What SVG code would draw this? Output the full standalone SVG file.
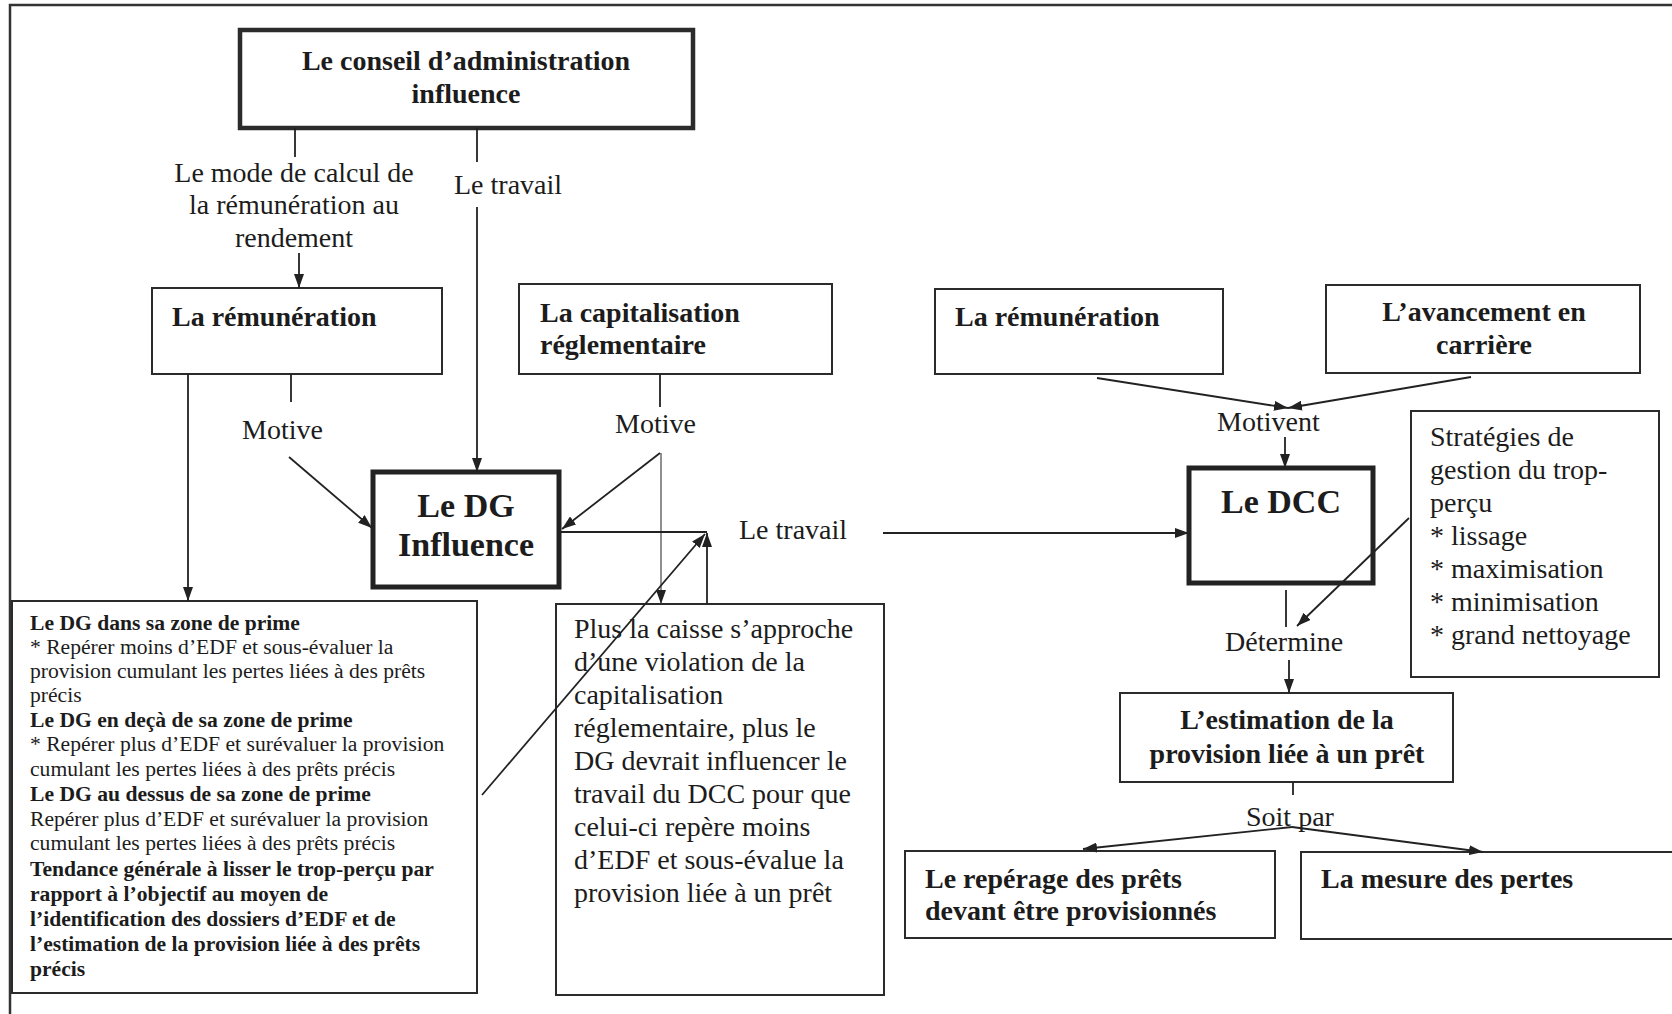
<svg xmlns="http://www.w3.org/2000/svg" width="1672" height="1014" viewBox="0 0 1672 1014">
  <defs>
    <marker id="ah" viewBox="0 0 14 10" refX="14" refY="5" markerWidth="14" markerHeight="10" markerUnits="userSpaceOnUse" orient="auto">
      <path d="M0,0 L14,5 L0,10 z" fill="#222"/>
    </marker>
  </defs>
  <style>
    .box{fill:#fff;stroke:#2b2b2b;stroke-width:2}
    .thick{fill:#fff;stroke:#222;stroke-width:5}
    .frame{fill:none;stroke:#333;stroke-width:2.5}
    .ln{fill:none;stroke:#222;stroke-width:1.8}
    .thin{fill:none;stroke:#333;stroke-width:1.1}
    .arr{marker-end:url(#ah)}
    .t{font-family:"Liberation Serif","Times New Roman",serif;fill:#1c1c1c}
    .b{font-weight:bold}
    .lg{font-size:28px}
    .sm{font-size:21.6px}
    .xl{font-size:34px}
    .mid{text-anchor:middle}
  </style>
  <rect width="1672" height="1014" fill="#fff"/>

  <!-- page frame (top and left rules) -->
  <path class="frame" d="M10,1014 V5 H1672"/>

  <!-- nodes -->
  <g id="conseil">
    <rect x="240" y="30" width="453" height="98" class="box" style="stroke-width:4.5"/>
    <text class="t b lg mid" x="466" y="70">Le conseil d’administration</text>
    <text class="t b lg mid" x="466" y="103">influence</text>
  </g>

  <g id="remuneration-dg">
    <rect x="152" y="288" width="290" height="86" class="box"/>
    <text class="t b lg" x="172" y="326">La rémunération</text>
  </g>

  <g id="capitalisation">
    <rect x="519" y="284" width="313" height="90" class="box"/>
    <text class="t b lg" x="540" y="322">La capitalisation</text>
    <text class="t b lg" x="540" y="354">réglementaire</text>
  </g>

  <g id="dg">
    <rect x="373" y="472" width="186" height="115" class="thick"/>
    <text class="t b xl mid" x="466" y="517">Le DG</text>
    <text class="t b xl mid" x="466" y="556">Influence</text>
  </g>

  <g id="zones-prime">
    <rect x="12" y="601" width="465" height="392" class="box"/>
    <text class="t sm b" x="30" y="630">Le DG dans sa zone de prime</text>
    <text class="t sm" x="30" y="654">* Repérer moins d’EDF et sous-évaluer la</text>
    <text class="t sm" x="30" y="678">provision cumulant les pertes liées à des prêts</text>
    <text class="t sm" x="30" y="702">précis</text>
    <text class="t sm b" x="30" y="727">Le DG en deçà de sa zone de prime</text>
    <text class="t sm" x="30" y="751">* Repérer plus d’EDF et surévaluer la provision</text>
    <text class="t sm" x="30" y="776">cumulant les pertes liées à des prêts précis</text>
    <text class="t sm b" x="30" y="801">Le DG au dessus de sa zone de prime</text>
    <text class="t sm" x="30" y="826">Repérer plus d’EDF et surévaluer la provision</text>
    <text class="t sm" x="30" y="850">cumulant les pertes liées à des prêts précis</text>
    <text class="t sm b" x="30" y="876">Tendance générale à lisser le trop-perçu par</text>
    <text class="t sm b" x="30" y="901">rapport à l’objectif au moyen de</text>
    <text class="t sm b" x="30" y="926">l’identification des dossiers d’EDF et de</text>
    <text class="t sm b" x="30" y="951">l’estimation de la provision liée à des prêts</text>
    <text class="t sm b" x="30" y="976">précis</text>
  </g>

  <g id="capitalisation-effet">
    <rect x="556" y="604" width="328" height="391" class="box"/>
    <text class="t lg" x="574" y="638">Plus la caisse s’approche</text>
    <text class="t lg" x="574" y="671">d’une violation de la</text>
    <text class="t lg" x="574" y="704">capitalisation</text>
    <text class="t lg" x="574" y="737">réglementaire, plus le</text>
    <text class="t lg" x="574" y="770">DG devrait influencer le</text>
    <text class="t lg" x="574" y="803">travail du DCC pour que</text>
    <text class="t lg" x="574" y="836">celui-ci repère moins</text>
    <text class="t lg" x="574" y="869">d’EDF et sous-évalue la</text>
    <text class="t lg" x="574" y="902">provision liée à un prêt</text>
  </g>

  <g id="remuneration-dcc">
    <rect x="935" y="289" width="288" height="85" class="box"/>
    <text class="t b lg" x="955" y="326">La rémunération</text>
  </g>

  <g id="avancement">
    <rect x="1326" y="285" width="314" height="88" class="box"/>
    <text class="t b lg mid" x="1484" y="321">L’avancement en</text>
    <text class="t b lg mid" x="1484" y="354">carrière</text>
  </g>

  <g id="dcc">
    <rect x="1189" y="468" width="184" height="115" class="thick"/>
    <text class="t b xl mid" x="1281" y="513">Le DCC</text>
  </g>

  <g id="strategies">
    <rect x="1411" y="411" width="248" height="266" class="box"/>
    <text class="t lg" x="1430" y="446">Stratégies de</text>
    <text class="t lg" x="1430" y="479">gestion du trop-</text>
    <text class="t lg" x="1430" y="512">perçu</text>
    <text class="t lg" x="1430" y="545">* lissage</text>
    <text class="t lg" x="1430" y="578">* maximisation</text>
    <text class="t lg" x="1430" y="611">* minimisation</text>
    <text class="t lg" x="1430" y="644">* grand nettoyage</text>
  </g>

  <g id="estimation">
    <rect x="1120" y="693" width="333" height="89" class="box"/>
    <text class="t b lg mid" x="1287" y="729">L’estimation de la</text>
    <text class="t b lg mid" x="1287" y="763">provision liée à un prêt</text>
  </g>

  <g id="reperage">
    <rect x="905" y="851" width="370" height="87" class="box"/>
    <text class="t b lg" x="925" y="888">Le repérage des prêts</text>
    <text class="t b lg" x="925" y="920">devant être provisionnés</text>
  </g>

  <g id="mesure">
    <rect x="1301" y="852" width="390" height="87" class="box"/>
    <text class="t b lg" x="1321" y="888">La mesure des pertes</text>
  </g>

  <!-- connectors and their labels -->
  <g id="connectors">
    <!-- conseil -> rémunération -->
    <path class="ln" d="M295,128 V157"/>
    <text class="t lg mid" x="294" y="182">Le mode de calcul de</text>
    <text class="t lg mid" x="294" y="214">la rémunération au</text>
    <text class="t lg mid" x="294" y="247">rendement</text>
    <path class="ln arr" d="M299,253 V288"/>

    <!-- conseil -> DG -->
    <path class="ln" d="M477,128 V162"/>
    <text class="t lg" x="454" y="194">Le travail</text>
    <path class="ln arr" d="M477,207 V472"/>

    <!-- rémunération -> DG -->
    <path class="ln" d="M291,374 V402"/>
    <text class="t lg" x="242" y="439">Motive</text>
    <path class="ln arr" d="M289,457 L372,528"/>

    <!-- rémunération -> zones de prime -->
    <path class="ln arr" d="M188,374 V601"/>

    <!-- capitalisation -> DG and -> effet -->
    <path class="ln" d="M660,374 V407"/>
    <text class="t lg" x="615" y="433">Motive</text>
    <path class="ln arr" d="M660,453 L562,529"/>
    <path class="thin arr" d="M661,453 V604"/>

    <!-- DG travail -> DCC -->
    <path class="ln" d="M559,532 H707"/>
    <path class="ln arr" d="M707,604 V533"/>
    <path class="ln arr" d="M482,795 L705,534"/>
    <text class="t lg" x="739" y="539">Le travail</text>
    <path class="ln arr" d="M883,533 H1189"/>

    <!-- motivations du DCC -->
    <path class="ln arr" d="M1097,378 L1288,408"/>
    <path class="ln arr" d="M1471,377 L1288,408"/>
    <text class="t lg" x="1217" y="431">Motivent</text>
    <path class="ln arr" d="M1285,437 V468"/>

    <!-- DCC -> estimation -->
    <path class="ln" d="M1286,590 V627"/>
    <text class="t lg" x="1225" y="651">Détermine</text>
    <path class="ln arr" d="M1289,660 V693"/>
    <path class="ln arr" d="M1409,518 L1297,626"/>

    <!-- estimation -> repérage / mesure -->
    <path class="ln" d="M1293,782 V795"/>
    <text class="t lg" x="1246" y="826">Soit par</text>
    <path class="ln arr" d="M1292,827 L1083,849"/>
    <path class="ln arr" d="M1292,827 L1483,852"/>
  </g>
</svg>
